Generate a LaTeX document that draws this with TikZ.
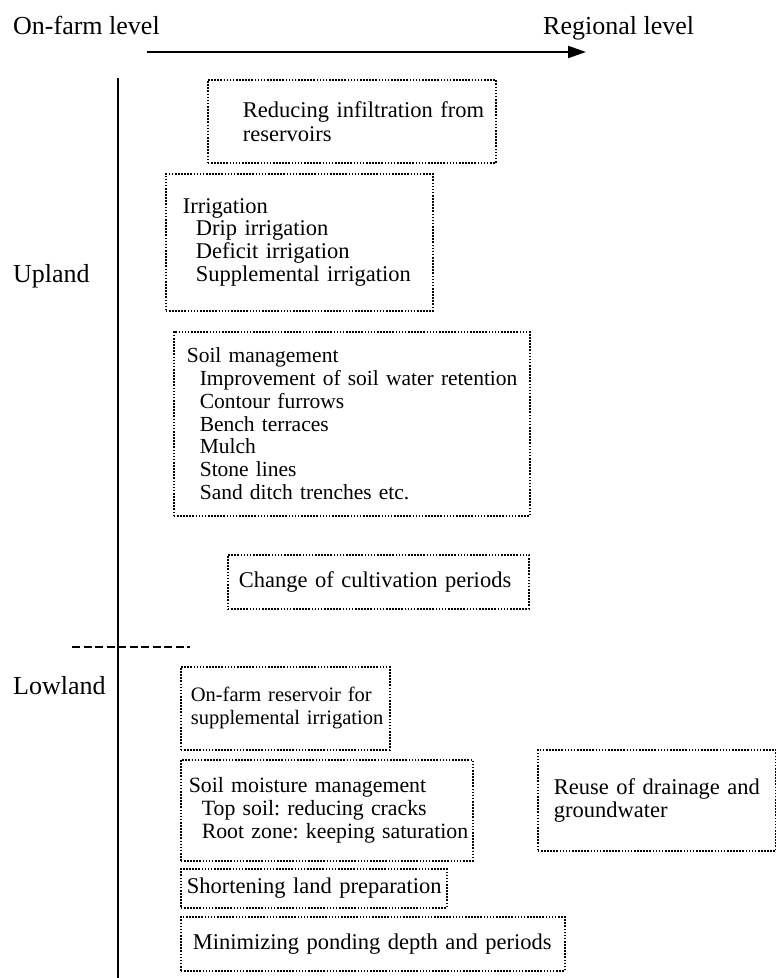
\documentclass[tikz,border=0pt]{standalone}
\usepackage{fontspec}
\setmainfont{Liberation Serif}
\usetikzlibrary{arrows.meta}
\frenchspacing
\newcommand\boxfont{\fontsize{22.5pt}{22.8pt}\selectfont}
\newcommand\levelfont{\fontsize{26pt}{28pt}\selectfont}
\newcommand\ind{\hspace*{13pt}}
\tikzset{
  measure box/.style={draw, line width=1.6pt, dash pattern=on 1.6pt off 1.5pt,
    anchor=north west, align=left, inner ysep=0pt, font=\boxfont},
  small box/.style={font=\fontsize{#1}{22.8pt}\selectfont},
  level label/.style={anchor=base west, inner sep=0pt, font=\levelfont},
  axis line/.style={line width=2pt},
}

\begin{document}
\begin{tikzpicture}[x=1pt,y=-1pt]
  \useasboundingbox (0,0) rectangle (776,978);
  % scale of the measures
  \node[level label] (farm) at (13,34) {On-farm level};
  \node[level label] (region) at (543,34) {Regional level};
  \coordinate (scale start) at (147,52);
  \coordinate (scale end) at (586,52);
  \draw[axis line, -{Triangle[length=18pt,width=12pt]}] (scale start) -- (scale end);
  \coordinate (land top) at (118,78);
  \coordinate (land bottom) at (118,978);
  \draw[axis line] (land top) -- (land bottom);
  \coordinate (split west) at (72,647);
  \coordinate (split east) at (190,647);
  \draw[axis line, dash pattern=on 8pt off 3.5pt] (split west) -- (split east);
  \node[level label] (upland) at (13,282) {Upland};
  \node[level label] (lowland) at (13,694) {Lowland};
  % upland
  \node[measure box, inner xsep=14pt, text width=260pt, minimum height=83pt] (reduce) at (207,79)
    {\hspace*{21pt}\mbox{Reducing infiltration from}\\[1pt]\hspace*{21pt}reservoirs};
  \node[measure box, inner xsep=17pt, text width=233pt, minimum height=137pt] (irrig) at (165,173)
    {Irrigation\\\ind Drip irrigation\\\ind Deficit irrigation\\\ind Supplemental irrigation};
  \node[measure box, small box=21.5pt, inner xsep=13pt, text width=330pt, minimum height=184pt] (soil) at (173,331)
    {Soil management\\\ind\mbox{Improvement of soil water retention}\\\ind Contour furrows\\\ind Bench terraces\\\ind Mulch\\\ind Stone lines\\\ind Sand ditch trenches etc.};
  \node[measure box, inner xsep=11pt, text width=279pt, minimum height=54pt] (cultiv) at (227,554)
    {\mbox{Change of cultivation periods}};
  % lowland
  \node[measure box, small box=20.5pt, inner xsep=10pt, text width=189pt, minimum height=83pt] (pond) at (180,666)
    {\mbox{On-farm reservoir for}\\\mbox{supplemental irrigation}};
  \node[measure box, small box=21.8pt, inner xsep=8pt, text width=276pt, minimum height=101pt] (moist) at (180,759)
    {\mbox{Soil moisture management}\\\ind\mbox{Top soil: reducing cracks}\\\ind\mbox{Root zone: keeping saturation}};
  \node[measure box, inner xsep=6pt, text width=254pt, minimum height=39pt] (prep) at (180,868)
    {\mbox{Shortening land preparation}};
  \node[measure box, inner xsep=12pt, text width=360pt, minimum height=54pt] (ponding) at (180,916)
    {\mbox{Minimizing ponding depth and periods}};
  \node[measure box, inner xsep=16pt, text width=206pt, minimum height=101pt] (reuse) at (537,749)
    {\mbox{Reuse of drainage and}\\groundwater};
\end{tikzpicture}
\end{document}
